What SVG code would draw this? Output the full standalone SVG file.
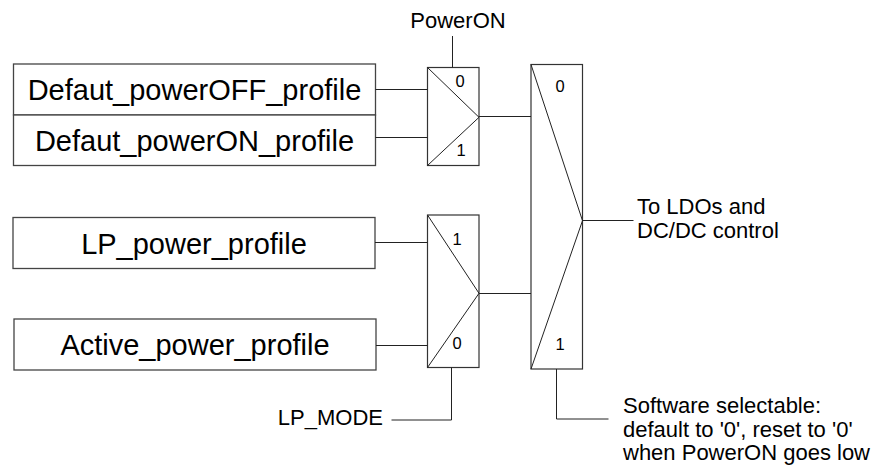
<svg xmlns="http://www.w3.org/2000/svg" width="872" height="467" viewBox="0 0 872 467">
<style>
.box{fill:#fff;stroke:#444;stroke-width:1.3}
.mux{fill:#fff;stroke:#333;stroke-width:1.2}
.ln{fill:none;stroke:#222;stroke-width:1}
.big{font-family:"Liberation Sans",Arial,sans-serif;font-size:29px;fill:#000;text-anchor:middle}
.sm{font-family:"Liberation Sans",Arial,sans-serif;font-size:22px;fill:#000}
.dg{font-family:"Liberation Sans",Arial,sans-serif;font-size:16.5px;fill:#000;text-anchor:middle}
</style>
<rect width="872" height="467" fill="#fff"/>
<g id="powerOFF_profile">
<rect class="box" x="13.5" y="64" width="362" height="51"/>
<text class="big" x="194.5" y="99.5">Defaut_powerOFF_profile</text>
</g>
<g id="powerON_profile">
<rect class="box" x="13.5" y="115" width="362" height="50.5"/>
<text class="big" x="194.5" y="150.5">Defaut_powerON_profile</text>
</g>
<g id="LP_power_profile">
<rect class="box" x="13" y="217.5" width="362" height="51"/>
<text class="big" x="194" y="253.5">LP_power_profile</text>
</g>
<g id="Active_power_profile">
<rect class="box" x="14" y="319" width="362" height="51"/>
<text class="big" x="195" y="354.5">Active_power_profile</text>
</g>
<g id="mux1">
<rect class="mux" x="427.5" y="67.5" width="51.5" height="98"/>
<polyline class="ln" points="427.5,67.5 479,117.3 427.5,165.5"/>
<text class="dg" x="460" y="87">0</text>
<text class="dg" x="461" y="156">1</text>
</g>
<g id="mux2">
<rect class="mux" x="427.5" y="215" width="51.5" height="152.5"/>
<polyline class="ln" points="427.5,215 479,293.3 427.5,367.5"/>
<text class="dg" x="457" y="245">1</text>
<text class="dg" x="457" y="349">0</text>
</g>
<g id="mux3">
<rect class="mux" x="531" y="64.5" width="51.5" height="304.5"/>
<polyline class="ln" points="531,64.5 582.5,220.7 531,369"/>
<text class="dg" x="560" y="92">0</text>
<text class="dg" x="560" y="350">1</text>
</g>
<g id="labels">
<text class="sm" x="458" y="28" text-anchor="middle">PowerON</text>
<text class="sm" x="383" y="425" text-anchor="end">LP_MODE</text>
<text class="sm" x="637" y="214">To LDOs and</text>
<text class="sm" x="637" y="238">DC/DC control</text>
<text class="sm" x="623" y="413">Software selectable:</text>
<text class="sm" x="623" y="437">default to '0', reset to '0'</text>
<text class="sm" x="623" y="460">when PowerON goes low</text>
</g>
<g id="connectors">
<line class="ln" x1="375.5" y1="89.5" x2="427.5" y2="89.5"/>
<line class="ln" x1="375.5" y1="137.5" x2="427.5" y2="137.5"/>
<line class="ln" x1="375" y1="242.5" x2="427.5" y2="242.5"/>
<line class="ln" x1="376" y1="345.5" x2="427.5" y2="345.5"/>
<line class="ln" x1="452.5" y1="36" x2="452.5" y2="67.5"/>
<polyline class="ln" points="451.5,367.5 451.5,420 391.5,420"/>
<line class="ln" x1="479" y1="116.5" x2="531" y2="116.5"/>
<line class="ln" x1="479" y1="293.5" x2="531" y2="293.5"/>
<line class="ln" x1="582.5" y1="220.5" x2="633.5" y2="220.5"/>
<polyline class="ln" points="556.5,369 556.5,419 608.5,419"/>
</g>
</svg>
